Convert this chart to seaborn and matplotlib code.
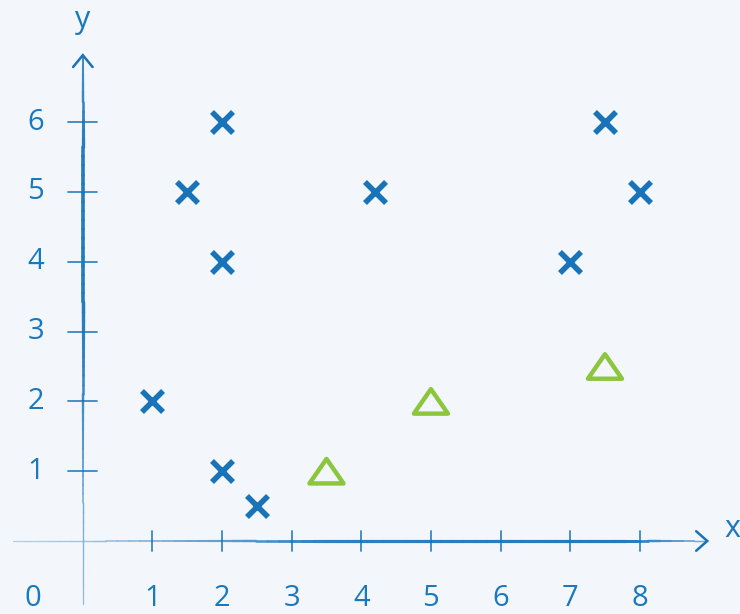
import matplotlib
matplotlib.use("Agg")
import matplotlib.pyplot as plt
import seaborn as sns
import pandas as pd
import numpy as np
from matplotlib.path import Path
from matplotlib.collections import LineCollection
from matplotlib.colors import to_rgb

# Data
cross_x = [1, 1.5, 2, 2, 2, 2.5, 4.2, 7, 7.5, 8]
cross_y = [2, 5, 6, 4, 1, 0.5, 5, 4, 6, 5]
tri_x = [3.5, 5, 7.5]
tri_y = [1, 2, 2.5]
x_ticks = [1, 2, 3, 4, 5, 6, 7, 8]
y_ticks = [1, 2, 3, 4, 5, 6]

BLUE = "#1873b9"
TEXT = "#1a78bd"
GREEN = "#8cc63f"
BG = "#f3f7fc"

sns.set_theme(style="white")
plt.rcParams['font.family'] = ['Open Sans', 'DejaVu Sans']

fig = plt.figure(figsize=(7.4, 6.14), dpi=100, facecolor=BG)
ax = fig.add_axes([0, 0, 1, 1])
ax.set_facecolor(BG)

b = np.array(to_rgb(BLUE))
g = np.array(to_rgb(BG))


def tapered(ax, p0, p1, prof_t, prof_w, prof_a, n=60):
    t = np.linspace(0, 1, n + 1)
    xs = p0[0] + (p1[0] - p0[0]) * t
    ys = p0[1] + (p1[1] - p0[1]) * t
    tm = (t[:-1] + t[1:]) / 2
    w = np.interp(tm, prof_t, prof_w)
    a = np.interp(tm, prof_t, prof_a)
    # draw from thinnest to thickest so seams are hidden
    order = np.argsort(w)
    for i in order:
        col = g + (b - g) * a[i]
        ax.plot([xs[i], xs[i + 1]], [ys[i], ys[i + 1]], color=col, lw=w[i],
                solid_capstyle="round", zorder=2)


# x axis
xa0, xa1 = -1.0, 8.95
def tx(v):
    return (v - xa0) / (xa1 - xa0)
tapered(ax, (xa0, 0), (xa1, 0),
        [tx(-1), tx(0), tx(1.2), tx(2.5), tx(3.5), tx(7.8), tx(8.4), tx(8.95)],
        [0.9, 1.0, 1.3, 1.8, 2.3, 2.3, 1.5, 1.0],
        [0.3, 0.4, 0.55, 0.75, 0.9, 0.95, 0.75, 0.55])

# y axis
ya0, ya1 = -0.9, 6.95
def ty(v):
    return (v - ya0) / (ya1 - ya0)
tapered(ax, (0, ya0), (0, ya1),
        [ty(-0.9), ty(0.3), ty(1.2), ty(2.3), ty(3.5), ty(5.5), ty(6.3), ty(6.95)],
        [0.9, 1.0, 1.3, 1.9, 2.6, 2.6, 1.8, 1.4],
        [0.45, 0.55, 0.7, 0.85, 0.95, 0.95, 0.85, 0.8])

# Arrow heads
ax.plot([8.81, 8.97, 8.81], [0.14, 0.0, -0.14], color=BLUE, lw=1.8, solid_joinstyle="miter")
ax.plot([-0.14, 0.0, 0.14], [6.79, 6.96, 6.79], color=BLUE, lw=1.8, solid_joinstyle="miter")

# Tick marks
for t in x_ticks:
    ax.plot([t, t], [-0.14, 0.14], color=BLUE, lw=1.3, alpha=0.85, zorder=3)
for t in y_ticks:
    ax.plot([-0.21, 0.21], [t, t], color=BLUE, lw=1.3, alpha=0.85, zorder=3)

# Tick labels
for t in x_ticks:
    ax.text(t, -0.82, str(t), color=TEXT, fontsize=21, ha="center", va="center")
for t in y_ticks:
    ax.text(-0.68, t, str(t), color=TEXT, fontsize=21, ha="center", va="center")
ax.text(-0.72, -0.82, "0", color=TEXT, fontsize=21, ha="center", va="center")
ax.text(0.0, 7.47, "y", color=TEXT, fontsize=22, ha="center", va="center")
ax.text(9.33, 0.17, "x", color=TEXT, fontsize=22, ha="center", va="center")

# Points
df_c = pd.DataFrame({"x": cross_x, "y": cross_y})
df_t = pd.DataFrame({"x": tri_x, "y": tri_y})

sns.scatterplot(data=df_c, x="x", y="y", ax=ax, marker="x", s=230,
                color=BLUE, linewidth=4.0, zorder=5)

tri_marker = Path([(0, 0.72), (-1, -0.72), (1, -0.72), (0, 0.72)],
                  [Path.MOVETO, Path.LINETO, Path.LINETO, Path.CLOSEPOLY])
sns.scatterplot(data=df_t, x="x", y="y", ax=ax, marker=tri_marker, s=600,
                facecolor="none", edgecolor=GREEN, linewidth=3.2, zorder=5)

ax.set_xlim(-1.19, 9.44)
ax.set_ylim(-1.046, 7.75)
ax.axis("off")
fig.savefig("out.png", dpi=100, facecolor=BG)
